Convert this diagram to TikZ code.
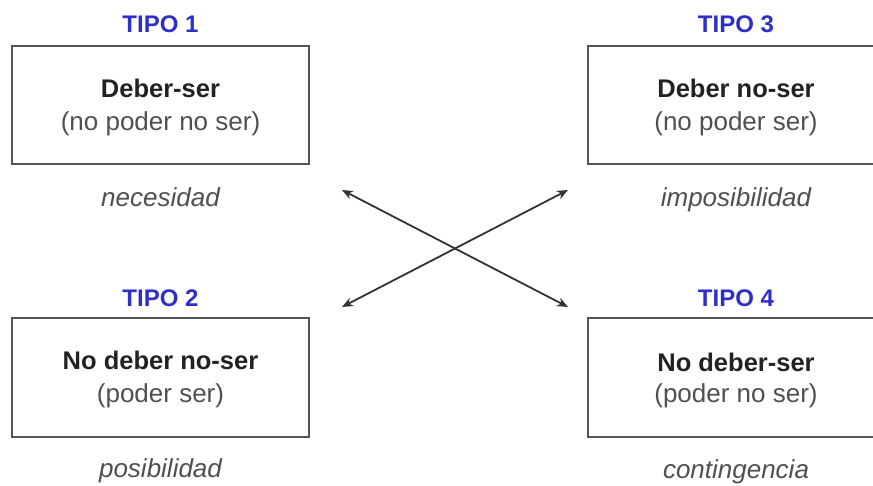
\documentclass[tikz,border=0pt]{standalone}
\usepackage{fontspec}
\setmainfont{Liberation Sans}
\usetikzlibrary{arrows.meta}
\definecolor{tipoblue}{HTML}{2E2EC8}
\definecolor{boxgray}{HTML}{555555}
\definecolor{textdark}{HTML}{222222}
\definecolor{textgray}{HTML}{505050}
\definecolor{linegray}{HTML}{333333}
\begin{document}
\begin{tikzpicture}[x=1pt,y=-1pt,
  typebox/.style={draw=boxgray, line width=2pt, minimum width=297pt, minimum height=118pt, inner sep=0pt},
  tipo/.style={text=tipoblue, font=\fontsize{24}{28}\selectfont\bfseries, anchor=base, inner sep=0pt},
  mainlabel/.style={text=textdark, font=\fontsize{25.5}{30}\selectfont\bfseries, anchor=base, inner sep=0pt},
  sublabel/.style={text=textgray, font=\fontsize{26}{30}\selectfont, anchor=base, inner sep=0pt},
  modal/.style={text=textgray, font=\fontsize{26}{30}\selectfont\itshape, anchor=base, inner sep=0pt},
  link/.style={draw=linegray, line width=1.8pt, {Stealth[length=11pt,width=9pt]}-{Stealth[length=11pt,width=9pt]}}
]
\useasboundingbox (0,0) rectangle (873,486);
\clip (0,0) rectangle (873,486);
\fill[white] (0,0) rectangle (873,486);

% boxes
\node[typebox] (b1) at (160.5,105) {};
\node[typebox] (b3) at (736,105) {};
\node[typebox] (b2) at (160.5,377.5) {};
\node[typebox] (b4) at (736,377.5) {};

% TIPO 1
\node[tipo] (t1) at (160.5,33) {TIPO 1};
\node[mainlabel] (m1) at (160.5,98) {Deber-ser};
\node[sublabel] (s1) at (160.5,131) {(no poder no ser)};
\node[modal] (d1) at (160.5,207) {necesidad};

% TIPO 3
\node[tipo] (t3) at (736,33) {TIPO 3};
\node[mainlabel] (m3) at (736,98) {Deber no-ser};
\node[sublabel] (s3) at (736,131) {(no poder ser)};
\node[modal] (d3) at (736,207) {imposibilidad};

% TIPO 2
\node[tipo] (t2) at (160.5,307) {TIPO 2};
\node[mainlabel] (m2) at (160.5,370) {No deber no-ser};
\node[sublabel] (s2) at (160.5,402) {(poder ser)};
\node[modal] (d2) at (160.5,477) {posibilidad};

% TIPO 4
\node[tipo] (t4) at (736,307) {TIPO 4};
\node[mainlabel] (m4) at (736,371) {No deber-ser};
\node[sublabel] (s4) at (736,402) {(poder no ser)};
\node[modal] (d4) at (736,478) {contingencia};

% crossing double arrows
\coordinate (ul) at (342,190);
\coordinate (ur) at (568,190);
\coordinate (ll) at (342,307);
\coordinate (lr) at (568,307);
\draw[link] (ul) -- (lr);
\draw[link] (ur) -- (ll);
\end{tikzpicture}
\end{document}
